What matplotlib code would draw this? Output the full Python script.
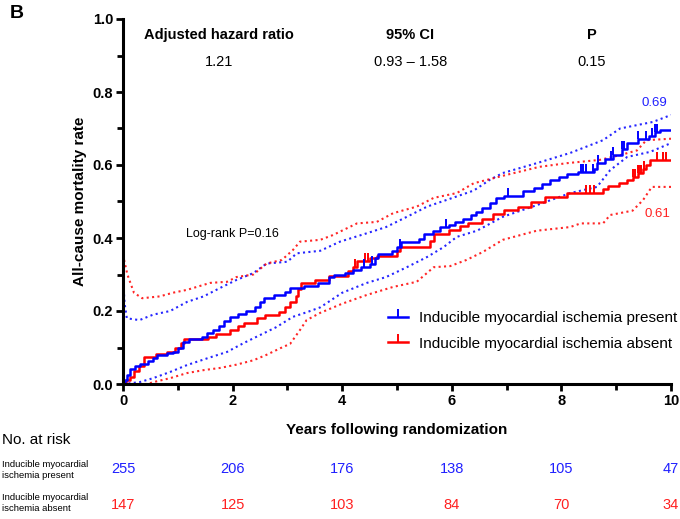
import matplotlib.pyplot as plt
import numpy as np
from matplotlib.lines import Line2D
from matplotlib.path import Path
from matplotlib.ticker import MultipleLocator

plt.rcParams['font.family'] = ['Liberation Sans', 'DejaVu Sans']

# Kaplan-Meier style cumulative mortality
blue_t = [0, 0.03, 0.08, 0.13, 0.22, 0.31, 0.45, 0.55, 0.62, 0.8, 0.91, 1.0, 1.1, 1.2,
          1.45, 1.53, 1.65, 1.75, 1.85, 1.95, 2.1, 2.25, 2.4, 2.5, 2.58, 2.75, 2.95,
          3.05, 3.3, 3.55, 3.75, 3.85, 4.05, 4.2, 4.35, 4.5, 4.6, 4.65, 4.9, 5.0, 5.08,
          5.4, 5.5, 5.65, 5.78, 5.95, 6.05, 6.2, 6.35, 6.45, 6.55, 6.7, 6.8, 6.95, 7.3,
          7.5, 7.65, 7.8, 7.95, 8.1, 8.3, 8.6, 8.65, 8.8, 8.95, 9.1, 9.2, 9.4, 9.6, 9.7,
          9.8, 10]
blue_y = [0, 0.012, 0.024, 0.04, 0.048, 0.056, 0.064, 0.072, 0.08, 0.084, 0.088, 0.1,
          0.116, 0.124, 0.128, 0.14, 0.148, 0.16, 0.172, 0.184, 0.192, 0.2, 0.212, 0.224,
          0.236, 0.244, 0.252, 0.264, 0.268, 0.276, 0.292, 0.3, 0.304, 0.312, 0.32, 0.33,
          0.345, 0.356, 0.364, 0.376, 0.39, 0.396, 0.41, 0.42, 0.43, 0.436, 0.444, 0.452,
          0.462, 0.472, 0.482, 0.496, 0.51, 0.516, 0.528, 0.536, 0.548, 0.558, 0.566,
          0.574, 0.58, 0.59, 0.605, 0.616, 0.628, 0.645, 0.66, 0.672, 0.68, 0.69, 0.696,
          0.696]

red_t = [0, 0.05, 0.12, 0.2, 0.3, 0.38, 0.6, 0.8, 0.95, 1.05, 1.12, 1.55, 1.7, 1.95,
         2.1, 2.2, 2.45, 2.6, 2.85, 2.95, 3.05, 3.15, 3.2, 3.25, 3.5, 3.75, 4.1, 4.2,
         4.27, 4.5, 4.63, 5.0, 5.05, 5.6, 5.67, 5.95, 6.15, 6.3, 6.55, 6.75, 6.95, 7.2,
         7.45, 7.7, 8.1, 8.75, 8.85, 9.05, 9.2, 9.3, 9.4, 9.48, 9.55, 9.62, 10]
red_y = [0, 0.01, 0.02, 0.035, 0.05, 0.074, 0.082, 0.088, 0.1, 0.112, 0.122, 0.13,
         0.138, 0.148, 0.16, 0.168, 0.18, 0.19, 0.196, 0.21, 0.224, 0.24, 0.26, 0.276,
         0.284, 0.296, 0.31, 0.32, 0.336, 0.344, 0.352, 0.364, 0.376, 0.392, 0.412,
         0.422, 0.432, 0.44, 0.452, 0.466, 0.476, 0.486, 0.5, 0.512, 0.524, 0.534,
         0.542, 0.55, 0.56, 0.568, 0.578, 0.59, 0.6, 0.614, 0.614]

# 95% confidence bands (dotted)
blue_hi_t = [0, 0.03, 0.07, 0.3, 0.55, 0.86, 1.17, 1.47, 1.77, 2.07, 2.38, 2.62, 3.0,
             3.17, 3.6, 3.96, 4.45, 4.8, 5.18, 5.55, 5.9, 6.4, 6.7, 6.93, 7.55, 8.16,
             8.76, 9.07, 9.67, 10]
blue_hi_y = [0.29, 0.22, 0.18, 0.175, 0.19, 0.2, 0.225, 0.24, 0.263, 0.285, 0.304, 0.33,
             0.335, 0.358, 0.365, 0.39, 0.413, 0.43, 0.458, 0.486, 0.504, 0.53, 0.56,
             0.578, 0.605, 0.633, 0.668, 0.70, 0.718, 0.737]
blue_lo_t = [0, 0.3, 0.55, 0.86, 1.17, 1.53, 1.9, 2.2, 2.5, 2.8, 3.1, 3.36, 3.6, 4.0,
             4.45, 4.8, 5.18, 5.55, 5.85, 6.09, 6.46, 6.93, 7.55, 8.16, 8.65, 8.89, 9.2,
             9.62, 10]
blue_lo_y = [0, 0.005, 0.016, 0.033, 0.052, 0.07, 0.088, 0.112, 0.134, 0.156, 0.184,
             0.197, 0.21, 0.25, 0.277, 0.293, 0.32, 0.348, 0.375, 0.403, 0.42, 0.458,
             0.49, 0.523, 0.54, 0.586, 0.622, 0.636, 0.66]
red_hi_t = [0.02, 0.08, 0.2, 0.35, 0.67, 0.91, 1.17, 1.59, 1.9, 2.07, 2.38, 2.62, 2.9,
            3.1, 3.23, 3.6, 3.83, 4.27, 4.63, 4.93, 5.36, 5.67, 6.09, 6.4, 7.0, 7.6, 8.1,
            8.7, 9.07, 9.38, 9.55, 10]
red_hi_y = [0.34, 0.30, 0.25, 0.235, 0.24, 0.25, 0.258, 0.277, 0.28, 0.293, 0.30, 0.33,
            0.34, 0.367, 0.39, 0.395, 0.408, 0.44, 0.444, 0.468, 0.486, 0.51, 0.523,
            0.55, 0.573, 0.595, 0.605, 0.614, 0.627, 0.64, 0.668, 0.672]
red_lo_t = [0, 0.45, 0.55, 0.86, 1.17, 1.47, 1.77, 2.07, 2.38, 2.62, 2.87, 3.05, 3.23,
            3.35, 3.6, 4.0, 4.45, 4.93, 5.36, 5.67, 5.97, 6.27, 6.57, 6.93, 7.55, 8.16,
            8.35, 8.76, 8.89, 9.3, 9.49, 9.65, 10]
red_lo_y = [0, 0, 0.005, 0.016, 0.03, 0.038, 0.044, 0.053, 0.065, 0.08, 0.098, 0.11,
            0.148, 0.175, 0.195, 0.22, 0.244, 0.266, 0.28, 0.32, 0.323, 0.34, 0.362,
            0.395, 0.42, 0.43, 0.44, 0.44, 0.463, 0.475, 0.504, 0.54, 0.54]

# censored observations
blue_cens = [4.4, 4.54, 5.05, 5.9, 7.02, 8.35, 8.4, 8.45, 8.58, 8.67, 8.9, 8.95, 9.1,
             9.15, 9.4, 9.55, 9.65, 9.7, 9.75]
red_cens = [4.23, 4.42, 4.47, 8.45, 8.52, 8.6, 9.3, 9.35, 9.4, 9.42, 9.45, 9.5, 9.75,
            9.85, 9.9]

risk_years = [0, 2, 4, 6, 8, 10]
risk_present = [255, 206, 176, 138, 105, 47]
risk_absent = [147, 125, 103, 84, 70, 34]

BLUE = '#0000FF'
RED = '#FF0000'
BLUE_T = '#2020FF'
RED_T = '#FF2020'

# upward tick marker (censor mark)
tick = Path([(0, 0), (0, 1)], [Path.MOVETO, Path.LINETO])


def step_value(t, ts, ys):
    idx = np.searchsorted(ts, t, side='right') - 1
    return np.array(ys)[idx]


fig = plt.figure(figsize=(6.8, 5.19), dpi=100)
ax = fig.add_axes([123 / 680, 1 - 384 / 519, (671 - 123) / 680, (384 - 19) / 519])

dots = (0, (1, 1.6))
ax.plot(blue_hi_t, blue_hi_y, color=BLUE, lw=1.5, ls=dots, alpha=0.85)
ax.plot(blue_lo_t, blue_lo_y, color=BLUE, lw=1.5, ls=dots, alpha=0.85)
ax.plot(red_hi_t, red_hi_y, color=RED, lw=1.5, ls=dots, alpha=0.85)
ax.plot(red_lo_t, red_lo_y, color=RED, lw=1.5, ls=dots, alpha=0.85)

ax.step(red_t, red_y, where='post', color=RED, lw=1.8)
ax.step(blue_t, blue_y, where='post', color=BLUE, lw=1.8)

ax.plot(red_cens, step_value(red_cens, red_t, red_y), ls='none', marker=tick,
        markersize=11, mec=RED, mew=1.4)
ax.plot(blue_cens, step_value(blue_cens, blue_t, blue_y), ls='none', marker=tick,
        markersize=11, mec=BLUE, mew=1.4)

ax.set_xlim(0, 10)
ax.set_ylim(0, 1)
for s in ['top', 'right']:
    ax.spines[s].set_visible(False)
for s in ['left', 'bottom']:
    ax.spines[s].set_linewidth(2.2)
ax.xaxis.set_major_locator(MultipleLocator(2))
ax.xaxis.set_minor_locator(MultipleLocator(1))
ax.yaxis.set_major_locator(MultipleLocator(0.2))
ax.yaxis.set_minor_locator(MultipleLocator(0.1))
ax.tick_params(which='major', length=5, width=2, labelsize=10.5, pad=2)
ax.tick_params(which='minor', length=4, width=2)
ax.set_yticks([0, 0.2, 0.4, 0.6, 0.8, 1.0])
ax.set_yticklabels(['0.0', '0.2', '0.4', '0.6', '0.8', '1.0'])
for lab in ax.get_xticklabels() + ax.get_yticklabels():
    lab.set_fontweight('bold')

ax.set_xlabel('Years following randomization', fontsize=11, fontweight='bold', labelpad=11)
ax.set_ylabel('All-cause mortality rate', fontsize=11, fontweight='bold', labelpad=4)

# header with hazard ratio
ax.text(1.75, 0.957, 'Adjusted hazard ratio', fontsize=10.5, fontweight='bold', ha='center', va='center')
ax.text(1.75, 0.882, '1.21', fontsize=10.5, ha='center', va='center')
ax.text(5.24, 0.957, '95% CI', fontsize=10.5, fontweight='bold', ha='center', va='center')
ax.text(5.24, 0.882, '0.93 \u2013 1.58', fontsize=10.5, ha='center', va='center')
ax.text(8.56, 0.957, 'P', fontsize=10.5, fontweight='bold', ha='center', va='center')
ax.text(8.56, 0.882, '0.15', fontsize=10.5, ha='center', va='center')

ax.text(2.0, 0.41, 'Log-rank P=0.16', fontsize=9, ha='center', va='center')
ax.text(9.7, 0.77, '0.69', fontsize=9.5, color=BLUE_T, ha='center', va='center')
ax.text(9.75, 0.467, '0.61', fontsize=9.5, color=RED_T, ha='center', va='center')

handles = [Line2D([], [], color=BLUE, lw=1.8, marker=tick, markersize=11, mew=1.4),
           Line2D([], [], color=RED, lw=1.8, marker=tick, markersize=11, mew=1.4)]
ax.legend(handles, ['Inducible myocardial ischemia present', 'Inducible myocardial ischemia absent'],
          loc='lower right', bbox_to_anchor=(1.022, 0.075), frameon=False, fontsize=11,
          handlelength=1.3, handletextpad=0.7, labelspacing=0.75, borderaxespad=0)

# risk table
fig.text(2 / 680, 1 - 440 / 519, 'No. at risk', fontsize=11, va='center', ha='left')
fig.text(2 / 680, 1 - 470 / 519, 'Inducible myocardial\nischemia present', fontsize=6.8,
         va='center', ha='left', linespacing=1.2)
fig.text(2 / 680, 1 - 503 / 519, 'Inducible myocardial\nischemia absent', fontsize=6.8,
         va='center', ha='left', linespacing=1.2)
for x, n1, n2 in zip(risk_years, risk_present, risk_absent):
    ax.text(x, -0.233, str(n1), color=BLUE_T, fontsize=10.5, ha='center', va='center', clip_on=False)
    ax.text(x, -0.332, str(n2), color=RED_T, fontsize=10.5, ha='center', va='center', clip_on=False)

fig.text(10 / 680, 1 - 13 / 519, 'B', fontsize=14, fontweight='bold', va='center', ha='left')

fig.savefig('out.png', dpi=100)
